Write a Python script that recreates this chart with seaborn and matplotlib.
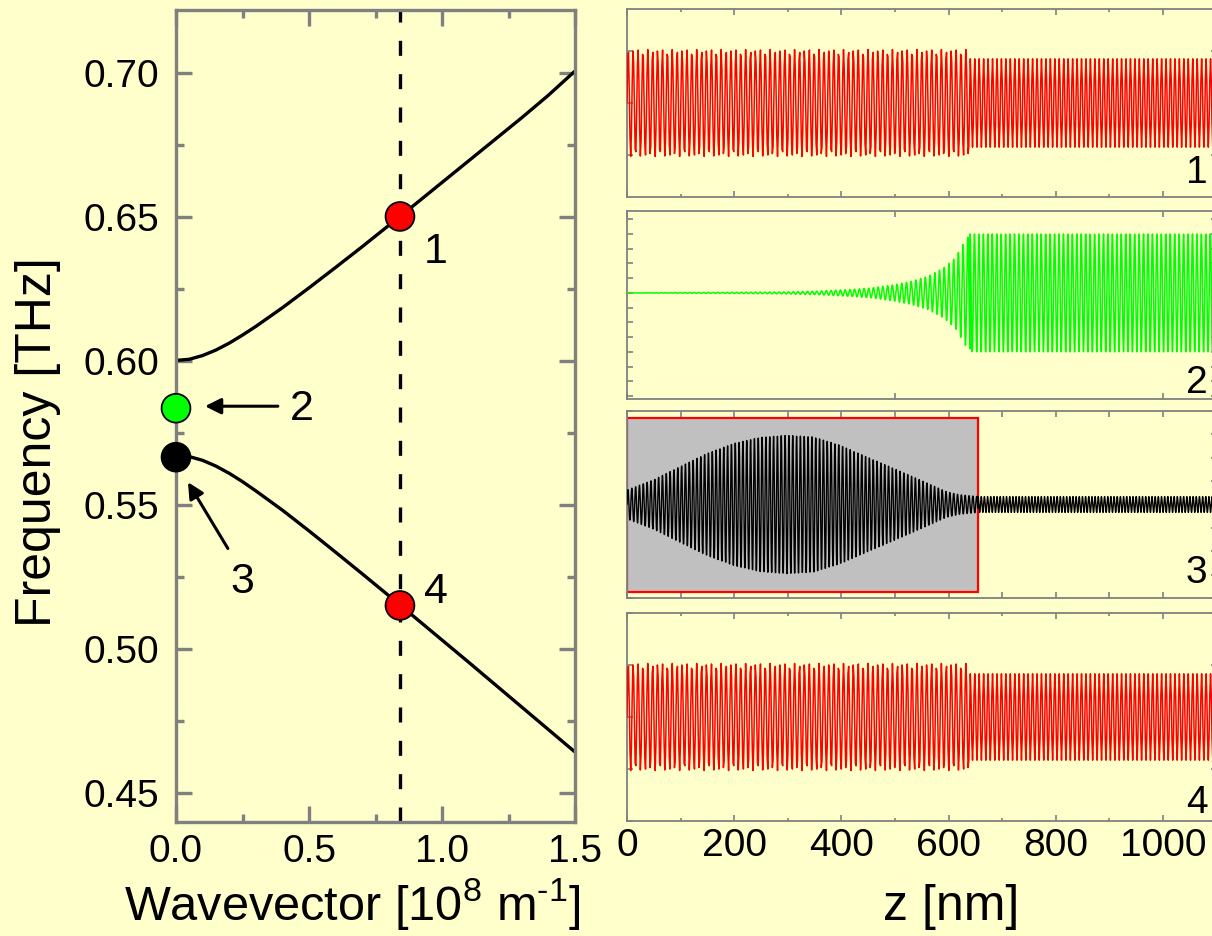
import numpy as np
import pandas as pd
import matplotlib
matplotlib.use("Agg")
import matplotlib.pyplot as plt
import matplotlib.transforms as mtrans
from matplotlib.patches import Rectangle
from matplotlib.ticker import MultipleLocator, FormatStrFormatter
import seaborn as sns

sns.set_theme(style="ticks")
plt.rcParams["font.family"] = ["Liberation Sans", "DejaVu Sans"]
plt.rcParams["mathtext.fontset"] = "custom"
plt.rcParams["mathtext.rm"] = "Liberation Sans"
plt.rcParams["mathtext.it"] = "Liberation Sans:italic"
plt.rcParams["mathtext.bf"] = "Liberation Sans:bold"
plt.rcParams["text.color"] = "black"
plt.rcParams["axes.labelcolor"] = "black"
plt.rcParams["xtick.labelcolor"] = "black"
plt.rcParams["ytick.labelcolor"] = "black"

BG = "#FFFFCC"
SPINE = "#808080"

# ---------------- dispersion relation ----------------
wavevector = [0.0, 0.05, 0.1, 0.15, 0.2, 0.25, 0.3, 0.4, 0.5, 0.6, 0.7, 0.8,
              0.842, 0.9, 1.0, 1.1, 1.2, 1.3, 1.4, 1.5]
freq_upper = [0.6003, 0.6007, 0.6020, 0.6039, 0.6063, 0.6091, 0.6121, 0.6186,
              0.6255, 0.6326, 0.6398, 0.6472, 0.6503, 0.6546, 0.6621, 0.6696,
              0.6771, 0.6846, 0.6924, 0.7008]
freq_lower = [0.5674, 0.5669, 0.5656, 0.5636, 0.5611, 0.5582, 0.5550, 0.5483,
              0.5411, 0.5337, 0.5262, 0.5186, 0.5154, 0.5109, 0.5032, 0.4955,
              0.4877, 0.4799, 0.4721, 0.4643]
k_selected = 0.842

# marked modes
mode_labels = ["1", "2", "3", "4"]
mode_k = [0.842, 0.0, 0.0, 0.842]
mode_f = [0.6503, 0.5837, 0.5667, 0.5152]
mode_colors = ["#FF0000", "#00FF00", "#000000", "#FF0000"]

# ---------------- spatial profiles (z in nm) ----------------
interface_z = 640
p1_amplitude = [1.03, 0.85]
p1_period = [9.13, 8.3]

p2_env_z = [0, 290, 355, 413, 456, 500, 532, 561, 590, 612, 630, 640, 1100]
p2_env_a = [0.0, 0.015, 0.03, 0.056, 0.084, 0.14, 0.20, 0.28, 0.42, 0.59, 0.87, 1.0, 1.0]
p2_period = [8.8, 8.3]

p3_env_z = [0, 49, 99, 149, 199, 248, 298, 348, 397, 447, 497, 547, 596, 620, 646, 655, 1100]
p3_env_a = [0.62, 1.05, 1.62, 2.18, 2.61, 2.87, 2.96, 2.89, 2.54, 2.04, 1.55, 1.05,
            0.55, 0.42, 0.36, 0.34, 0.34]
p3_period = [7.15, 5.9]
cavity_z = [0, 655]

p4_amplitude = [1.03, 0.83]
p4_period = [9.13, 8.3]

z_max = 1100


def two_region_wave(z, env, periods, z_split):
    """Oscillation with one wavelength before z_split and another after it."""
    left = np.sin(2 * np.pi * z / periods[0])
    z_first = z[z >= z_split][0]
    right = np.cos(2 * np.pi * (z - z_first) / periods[1])
    return env * np.where(z < z_split, left, right)


# coarse sampling for the propagating modes, fine for the others
z_coarse = np.arange(0, z_max + 2, p1_period[1] / 6)
z_fine = np.arange(0, z_max + 1, 0.25)

sig1 = two_region_wave(z_coarse, np.where(z_coarse < interface_z, *p1_amplitude),
                       p1_period, interface_z)
sig2 = two_region_wave(z_fine, np.interp(z_fine, p2_env_z, p2_env_a),
                       p2_period, interface_z)
sig3 = two_region_wave(z_fine, np.interp(z_fine, p3_env_z, p3_env_a),
                       p3_period, cavity_z[1])
sig4 = two_region_wave(z_coarse, np.where(z_coarse < interface_z, *p4_amplitude),
                       p4_period, interface_z)

profiles = [
    pd.DataFrame({"z": z_coarse, "m": sig1}),
    pd.DataFrame({"z": z_fine, "m": sig2}),
    pd.DataFrame({"z": z_fine, "m": sig3}),
    pd.DataFrame({"z": z_coarse, "m": sig4}),
]
profile_colors = ["#FF0000", "#00FF00", "#000000", "#FF0000"]
profile_lw = [1.1, 1.1, 1.0, 1.1]

# ---------------- figure ----------------
W, H = 1212, 936
fig = plt.figure(figsize=(W / 100, H / 100), dpi=100, facecolor=BG)


def rect(x0, y0, x1, y1):
    return [x0 / W, 1 - y1 / H, (x1 - x0) / W, (y1 - y0) / H]


# ---- dispersion panel ----
ax = fig.add_axes(rect(176, 10, 575, 822))
ax.set_facecolor(BG)
disp = pd.DataFrame({"k": wavevector, "upper": freq_upper, "lower": freq_lower})
sns.lineplot(data=disp, x="k", y="upper", ax=ax, color="black", lw=2.4,
             sort=False, estimator=None)
sns.lineplot(data=disp, x="k", y="lower", ax=ax, color="black", lw=2.4,
             sort=False, estimator=None)
ax.axvline(k_selected, color="black", lw=2.4, dashes=(4.5, 5.5), zorder=1)
sns.scatterplot(x=mode_k, y=mode_f, ax=ax, c=mode_colors, s=430,
                edgecolor="black", linewidth=1.3, zorder=5, clip_on=False)

ax.set_xlim(0, 1.5)
ax.set_ylim(0.44, 0.722)
ax.xaxis.set_major_locator(MultipleLocator(0.5))
ax.xaxis.set_minor_locator(MultipleLocator(0.25))
ax.yaxis.set_major_locator(MultipleLocator(0.05))
ax.yaxis.set_minor_locator(MultipleLocator(0.025))
ax.xaxis.set_major_formatter(FormatStrFormatter("%.1f"))
ax.yaxis.set_major_formatter(FormatStrFormatter("%.2f"))
ax.tick_params(which="both", direction="in", top=True, right=True,
               color=SPINE, width=2.4, labelsize=28, labelcolor="black")
ax.tick_params(which="major", length=11.5)
ax.tick_params(which="minor", length=6)
ax.tick_params(axis="y", pad=12)
ax.tick_params(axis="x", pad=9)
for s in ax.spines.values():
    s.set_color(SPINE)
    s.set_linewidth(2.4)

ax.set_xlabel("Wavevector [10$^{8}$ m$^{\u2010 1}$]", fontsize=35, color="black")
ax.set_ylabel("Frequency [THz]", fontsize=36, color="black")
ax.xaxis.set_label_coords(0.441, -0.066)
ax.yaxis.set_label_coords(-0.287, 0.468)

# mode labels and arrows
ax.text(0.977, 0.634, mode_labels[0], fontsize=31, ha="center", va="baseline")
ax.text(0.474, 0.5795, mode_labels[1], fontsize=31, ha="center", va="baseline")
ax.text(0.248, 0.5194, mode_labels[2], fontsize=31, ha="center", va="baseline")
ax.text(0.977, 0.516, mode_labels[3], fontsize=31, ha="center", va="baseline")
arrow = dict(arrowstyle="-|>", color="black", lw=2.2, mutation_scale=24,
             shrinkA=0, shrinkB=0)
ax.annotate("", xy=(0.109, 0.5844), xytext=(0.383, 0.5844), arrowprops=arrow)
ax.annotate("", xy=(0.045, 0.5580), xytext=(0.195, 0.5350), arrowprops=arrow)

# ---- spatial profile panels ----
x_right = 627 + z_max * 0.536
panel_rows = [(9, 197), (211, 399), (411, 598), (613, 821)]
panel_ylim = [(-1.81, 1.81), (-1.80, 1.39), (-4.0, 4.0), (-2.0, 2.0)]
panel_ytick = [1.0, 0.25, 1.0, 1.0]
panel_xmajor = [200, 500, 100, 200]
panel_xminor = [100, None, None, 100]
panel_label_y = [0.074, 0.03, 0.08, 0.04]

axes = []
for i, (top, bot) in enumerate(panel_rows):
    pa = fig.add_axes(rect(627, top, x_right, bot))
    pa.set_facecolor(BG)
    if i == 2:
        pa.add_patch(Rectangle((cavity_z[0], -3.75), cavity_z[1] - cavity_z[0], 7.45,
                               facecolor="#C0C0C0", edgecolor="#FF0000", lw=1.6,
                               zorder=1))
    sns.lineplot(data=profiles[i], x="z", y="m", ax=pa, color=profile_colors[i],
                 lw=profile_lw[i], sort=False, estimator=None, zorder=3)
    pa.set_xlim(0, z_max)
    pa.set_ylim(*panel_ylim[i])
    pa.xaxis.set_major_locator(MultipleLocator(panel_xmajor[i]))
    if panel_xminor[i]:
        pa.xaxis.set_minor_locator(MultipleLocator(panel_xminor[i]))
    pa.yaxis.set_major_locator(MultipleLocator(panel_ytick[i]))
    pa.tick_params(which="both", direction="in", top=True, right=True,
                   color=SPINE, width=1.2, labelleft=False, labelsize=28,
                   labelcolor="black", pad=5)
    pa.tick_params(which="major", length=4.5)
    pa.tick_params(which="minor", length=2.5)
    if i < 3:
        pa.tick_params(labelbottom=False)
    pa.set_xlabel("")
    pa.set_ylabel("")
    for s in pa.spines.values():
        s.set_color(SPINE)
        s.set_linewidth(1.3)
    trans = mtrans.blended_transform_factory(pa.transData, pa.transAxes)
    pa.text(1063, panel_label_y[i], str(i + 1), transform=trans, fontsize=28,
            ha="center", va="baseline", color="black")
    axes.append(pa)

axes[3].set_xlabel("z [nm]", fontsize=36, color="black")
axes[3].xaxis.set_label_coords((951 - 627) / (x_right - 627), -0.305)

fig.savefig("out.png", dpi=100, facecolor=BG)
